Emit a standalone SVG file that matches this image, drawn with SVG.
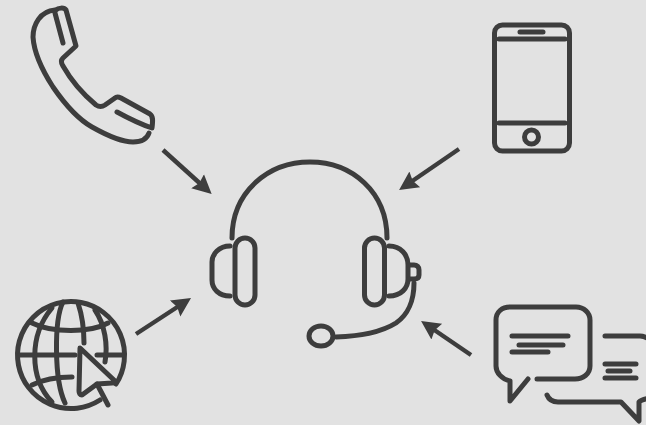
<svg xmlns="http://www.w3.org/2000/svg" width="646" height="425" viewBox="0 0 646 425">
<style>
.i{fill:none;stroke:#3d3d3d;stroke-width:5;stroke-linecap:round;stroke-linejoin:round}
.a{fill:none;stroke:#3d3d3d;stroke-width:4.400;stroke-linecap:butt}
</style>
<defs>
<marker id="h" markerUnits="userSpaceOnUse" markerWidth="26" markerHeight="26" refX="10" refY="11" orient="auto">
<path d="M0 1.500L19 11L0 20.500L2.500 11Z" fill="#3d3d3d"/>
</marker>
</defs>
<rect width="646" height="425" fill="#e2e2e2"/>
<g id="connectors">
<line class="a" x1="163" y1="150" x2="205" y2="188" marker-end="url(#h)"/>
<line class="a" x1="459" y1="149" x2="406.500" y2="185" marker-end="url(#h)"/>
<line class="a" x1="136" y1="334" x2="183.500" y2="303" marker-end="url(#h)"/>
<line class="a" x1="471" y1="355" x2="428.500" y2="326" marker-end="url(#h)"/>
</g>
<g id="telephone" class="i">
<path class="i" d="M55 10C40 11 33 25 33 37C34 52 42 70 53 87C64 103 76 118 92 127C108 136 122 142 133 142C141 142 147 139 149 133"/>
<path class="i" d="M56 10C58 8 64 7 66 10L76 46L63 58C61 60 61 63 63 66C72 82 84 95 96 105C99 107 102 107 105 105L115 98C117 96 119 97 121 98L150 114C153 116 153 120 152 128C140 124 128 118 117 112"/>
<path class="i" d="M55 13L63 43"/>
</g>
<g id="smartphone" class="i">
<rect class="i" x="494.500" y="25" width="75" height="126" rx="8"/>
<path class="i" d="M499 39H565M499 123H565M520 32H543"/>
<circle class="i" cx="531.500" cy="137" r="7"/>
</g>
<g id="globe" class="i">
<path class="i" d="M100 400A53.500 53.500 0 1 1 116 384"/>
<path class="i" d="M20 355H75M97 355H122M32 323C52 333 90 333 108 323M32 385C42 380 55 377 72 377"/>
<path class="i" d="M52 308C29 335 29 378 52 402M63 302C54 320 54 380 65 403M78 303C82 315 84 330 84 343M95 310C105 325 108 345 105 362"/>
<path class="i" d="M80 348L115 381C115 383 114 383 112 383L97 384L82 395C80 395 79 393 79 391Z"/>
<path class="i" d="M97 384L108 405"/>
</g>
<g id="headset" class="i">
<path class="i" d="M232 238C232 192 268 162 310 162C352 162 387 192 387 238"/>
<rect class="i" x="235" y="238" width="20" height="67" rx="10"/>
<rect class="i" x="364.500" y="238" width="20" height="67" rx="10"/>
<path class="i" d="M230 246C219 246 212 254 212 262V280C212 289 219 296 230 296"/>
<path class="i" d="M389 246C401 246 408 255 408 265V279C408 288 401 296 389 296"/>
<path class="i" d="M409 265H414C417 265 419 267 419 270V275C419 278 417 279 414 279H409"/>
<path class="i" d="M414 283C414 300 408 315 396 323C380 333 360 336 336 337"/>
<ellipse class="i" cx="321" cy="336" rx="12" ry="10"/>
</g>
<g id="chat" class="i">
<path class="i" d="M510 381C502 379 496 373 496 366V320C496 312 502 307 510 307H576C584 307 590 313 590 320V366C590 374 583 379 575 379H537M510 381V401L528 379"/>
<path class="i" d="M512 336H568M519 345H563M512 352H548"/>
<path class="i" d="M605 336H640C644 336 648 338 652 342M547 395C549 400 553 402 558 402H621L639 421V402C641 400 644 399 650 398"/>
<path class="i" d="M605 364H636M608 371H630M605 378H636"/>
</g>
</svg>
